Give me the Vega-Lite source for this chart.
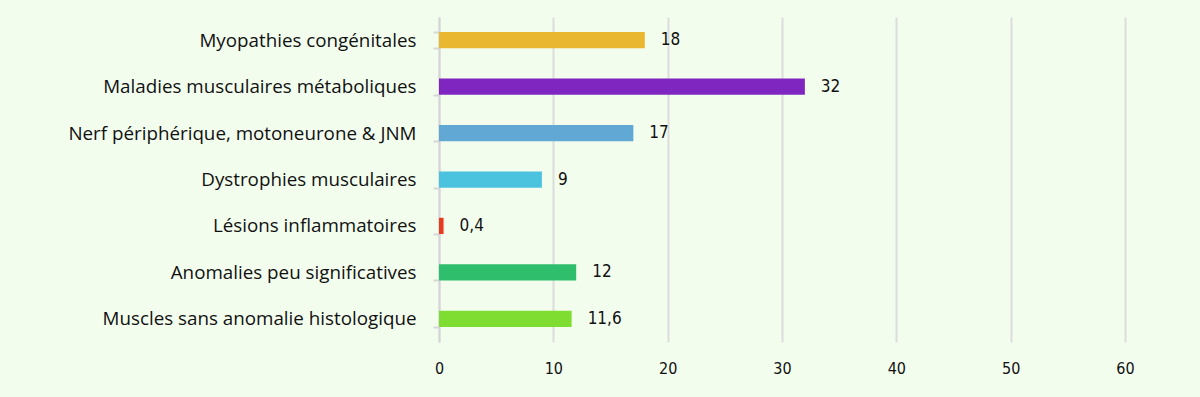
{
  "$schema": "https://vega.github.io/schema/vega-lite/v6.json",
  "width": 686,
  "height": 325,
  "autosize": {"type": "none"},
  "padding": {"left": 439, "top": 17, "right": 75, "bottom": 55},
  "background": "#f3fdee",
  "config": {"view": {"stroke": null}},
  "data": {"values": [
    {"cat": "Myopathies congénitales", "v": 18, "lab": "18", "c": "#e9b830"},
    {"cat": "Maladies musculaires métaboliques", "v": 32, "lab": "32", "c": "#7e26bf"},
    {"cat": "Nerf périphérique, motoneurone & JNM", "v": 17, "lab": "17", "c": "#62a8d5"},
    {"cat": "Dystrophies musculaires", "v": 9, "lab": "9", "c": "#4cc3de"},
    {"cat": "Lésions inflammatoires", "v": 0.4, "lab": "0,4", "c": "#e83a1f"},
    {"cat": "Anomalies peu significatives", "v": 12, "lab": "12", "c": "#2fbf6c"},
    {"cat": "Muscles sans anomalie histologique", "v": 11.6, "lab": "11,6", "c": "#7fdc31"}
  ]},
  "encoding": {
    "y": {"field": "cat", "type": "nominal", "sort": null,
      "scale": {"paddingInner": 0.65, "paddingOuter": 0.325},
      "axis": {"title": null, "domainColor": "#d6d6d6", "domainWidth": 2, "tickColor": "#d6d6d6", "tickWidth": 2, "tickSize": 6, "tickBand": "extent", "labelPadding": 17, "labelFont": "Open Sans", "labelFontSize": 18.8, "labelColor": "#111", "labelLimit": 400}},
    "x": {"field": "v", "type": "quantitative",
      "scale": {"domain": [0, 60], "nice": false},
      "axis": {"title": null, "values": [0, 10, 20, 30, 40, 50, 60], "domain": false, "ticks": false, "grid": true, "gridColor": "#dcdcdc", "gridWidth": 2, "labelFlush": false, "labelPadding": 18, "labelFont": "DejaVu Sans Condensed", "labelFontSize": 16, "labelColor": "#111"}}
  },
  "layer": [
    {"mark": {"type": "bar"}, "encoding": {"color": {"field": "c", "type": "nominal", "scale": null}}},
    {"mark": {"type": "text", "align": "left", "dx": 16, "font": "DejaVu Sans Condensed", "fontSize": 17, "color": "#111"},
     "encoding": {"text": {"field": "lab"}}}
  ]
}
